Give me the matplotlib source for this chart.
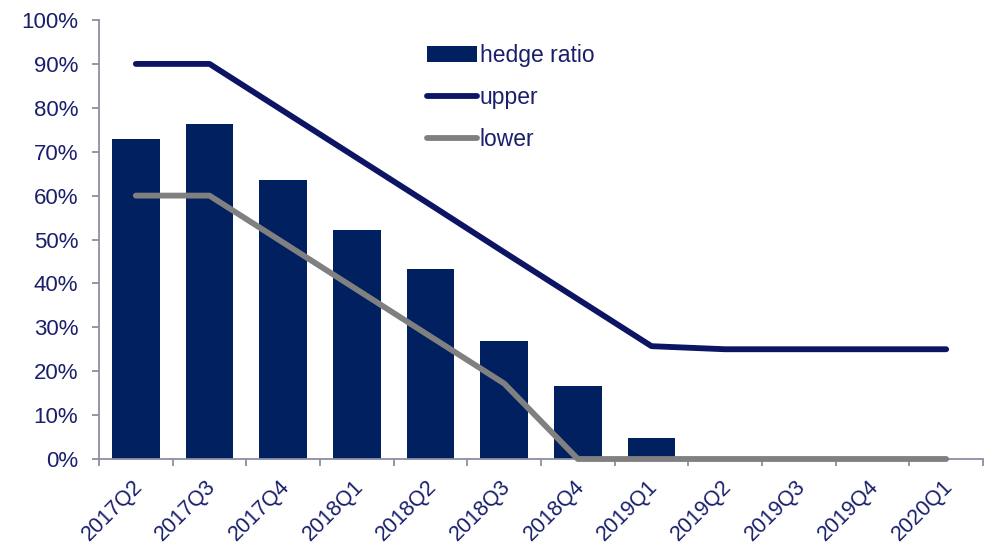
import matplotlib
matplotlib.use("Agg")
import matplotlib.pyplot as plt
from matplotlib.ticker import FixedLocator, FuncFormatter
from matplotlib.patches import Patch
from matplotlib.lines import Line2D
from matplotlib.transforms import ScaledTranslation
import numpy as np

categories = ["2017Q2", "2017Q3", "2017Q4", "2018Q1", "2018Q2", "2018Q3",
              "2018Q4", "2019Q1", "2019Q2", "2019Q3", "2019Q4", "2020Q1"]
hedge_ratio = [72.8, 76.2, 63.5, 52.1, 43.2, 26.9, 16.6, 4.7, 0, 0, 0, 0]
upper = [90, 90, 79.3, 68.6, 57.9, 47.1, 36.4, 25.7, 25, 25, 25, 25]
lower = [60, 60, 49.3, 38.6, 27.9, 17.2, 0, 0, 0, 0, 0, 0]
y_ticks = [0, 10, 20, 30, 40, 50, 60, 70, 80, 90, 100]

bar_color = "#002060"
upper_color = "#0c1464"
lower_color = "#808080"
text_color = "#1a1f6b"
spine_color = "#8e8ea4"

plt.rcParams['font.family'] = ['Liberation Sans', 'DejaVu Sans']

fig = plt.figure(figsize=(9.91, 5.51), dpi=100)
ax = fig.add_axes([99/991, 1-459/551, (983-99)/991, (459-20)/551])

x = np.arange(len(categories))
ax.bar(x, hedge_ratio, width=0.65, color=bar_color, zorder=2)
ax.plot(x, upper, color=upper_color, lw=4.2, solid_capstyle='round',
        solid_joinstyle='round', zorder=3)
ax.plot(x, lower, color=lower_color, lw=4.2, solid_capstyle='round',
        solid_joinstyle='round', zorder=3, clip_on=False)

ax.set_xlim(-0.5, len(categories) - 0.5)
ax.set_ylim(0, 100)

for s in ["top", "right"]:
    ax.spines[s].set_visible(False)
for s in ["left", "bottom"]:
    ax.spines[s].set_color(spine_color)
    ax.spines[s].set_linewidth(1.3)

ax.set_yticks(y_ticks)
ax.yaxis.set_major_formatter(FuncFormatter(lambda v, p: f"{int(v)}%"))
ax.tick_params(axis='y', length=5, width=1.3, color=spine_color, pad=10,
               labelsize=16, labelcolor=text_color)

ax.xaxis.set_major_locator(FixedLocator(np.arange(-0.5, len(categories), 1.0)))
ax.xaxis.set_major_formatter(FuncFormatter(lambda v, p: ""))
ax.xaxis.set_minor_locator(FixedLocator(x))
ax.set_xticklabels(categories, minor=True)
ax.tick_params(axis='x', which='major', length=5, width=1.3, color=spine_color)
ax.tick_params(axis='x', which='minor', length=0, pad=12, labelsize=15.5,
               labelcolor=text_color)
offset = ScaledTranslation(-4/100, 0, fig.dpi_scale_trans)
for lab in ax.get_xticklabels(minor=True):
    lab.set_rotation(45)
    lab.set_ha('right')
    lab.set_va('top')
    lab.set_rotation_mode('anchor')
    lab.set_transform(lab.get_transform() + offset)

handles = [Patch(facecolor=bar_color, edgecolor='none'),
           Line2D([0], [0], color=upper_color, lw=4.2, solid_capstyle='round'),
           Line2D([0], [0], color=lower_color, lw=4.2, solid_capstyle='round')]
leg = fig.legend(handles, ["hedge ratio", "upper", "lower"],
                 loc='upper left', bbox_to_anchor=(427/991, 1-44/551),
                 frameon=False, fontsize=16.5, handlelength=2.2,
                 handletextpad=0.1, labelspacing=0.82, borderpad=0,
                 borderaxespad=0)
for t in leg.get_texts():
    t.set_color(text_color)

fig.savefig("out.png", dpi=100)
